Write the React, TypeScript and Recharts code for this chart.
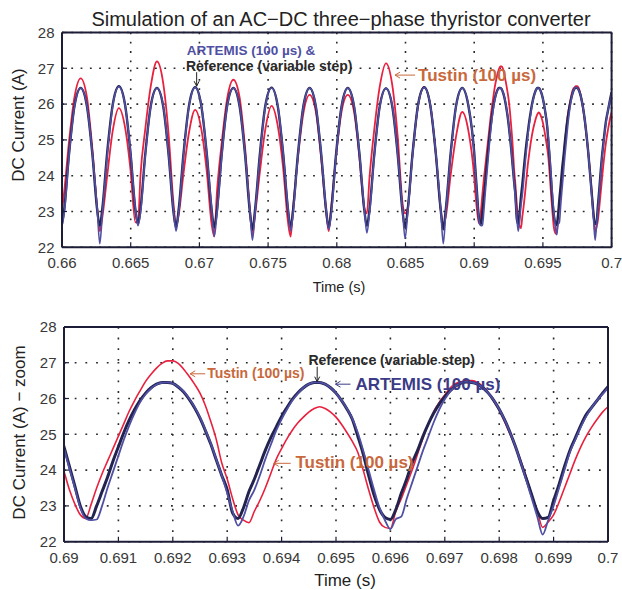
import { CartesianGrid, Line, LineChart, ReferenceDot, XAxis, YAxis } from "recharts";

// sample times in ms; coarse part follows each ripple cycle, zoom part is the 100 µs grid
const coarseTimeMs = [
  659.97, 660.16, 660.51, 660.91, 661.36, 661.81, 662.21, 662.56,
  662.75, 662.94, 663.29, 663.69, 664.14, 664.59, 664.99, 665.34,
  665.53, 665.71, 666.06, 666.46, 666.91, 667.36, 667.76, 668.11,
  668.3, 668.49, 668.84, 669.24, 669.69, 670.14, 670.54, 670.89,
  671.08, 671.27, 671.62, 672.02, 672.47, 672.92, 673.32, 673.67,
  673.86, 674.05, 674.4, 674.8, 675.25, 675.7, 676.1, 676.45,
  676.64, 676.82, 677.17, 677.57, 678.02, 678.47, 678.87, 679.22,
  679.41, 679.6, 679.95, 680.35, 680.8, 681.25, 681.65, 682.0,
  682.19, 682.38, 682.73, 683.13, 683.58, 684.03, 684.43, 684.78,
  684.97, 685.16, 685.51, 685.91, 686.36, 686.81, 687.21, 687.56,
  687.75, 687.93, 688.28, 688.68, 689.13, 689.58
];

const zoomTimeMs = [
  690.0, 690.1, 690.2, 690.3, 690.4, 690.5, 690.6, 690.7, 690.8, 690.9,
  691.0, 691.1, 691.2, 691.3, 691.4, 691.5, 691.6, 691.7, 691.8, 691.9,
  692.0, 692.1, 692.2, 692.3, 692.4, 692.5, 692.6, 692.7, 692.8, 692.9,
  693.0, 693.1, 693.2, 693.3, 693.4, 693.5, 693.6, 693.7, 693.8, 693.9,
  694.0, 694.1, 694.2, 694.3, 694.4, 694.5, 694.6, 694.7, 694.8, 694.9,
  695.0, 695.1, 695.2, 695.3, 695.4, 695.5, 695.6, 695.7, 695.8, 695.9,
  696.0, 696.1, 696.2, 696.3, 696.4, 696.5, 696.6, 696.7, 696.8, 696.9,
  697.0, 697.1, 697.2, 697.3, 697.4, 697.5, 697.6, 697.7, 697.8, 697.9,
  698.0, 698.1, 698.2, 698.3, 698.4, 698.5, 698.6, 698.7, 698.8, 698.9,
  699.0, 699.1, 699.2, 699.3, 699.4, 699.5, 699.6, 699.7, 699.8, 699.9,
  700.0
];

const referenceCoarse = [
  22.6, 23.05, 24.6, 25.95, 26.45, 25.95, 24.6, 23.05,
  22.6, 23.1, 24.65, 25.98, 26.5, 25.98, 24.62, 23.05,
  22.65, 23.05, 24.6, 25.95, 26.45, 25.95, 24.58, 23.0,
  22.55, 23.05, 24.6, 25.95, 26.47, 25.95, 24.6, 23.05,
  22.55, 23.0, 24.58, 25.95, 26.45, 25.95, 24.6, 23.0,
  22.5, 23.05, 24.6, 25.96, 26.46, 25.95, 24.6, 23.05,
  22.55, 23.05, 24.6, 25.95, 26.45, 25.94, 24.58, 23.05,
  22.55, 23.05, 24.62, 25.95, 26.45, 25.95, 24.6, 23.05,
  22.6, 23.05, 24.6, 25.95, 26.44, 25.95, 24.6, 23.02,
  22.55, 23.05, 24.6, 25.97, 26.47, 25.95, 24.6, 23.05,
  22.5, 23.05, 24.6, 25.95, 26.45, 25.95
];

const artemisCoarse = [
  22.55, 22.95, 24.55, 25.93, 26.45, 25.97, 24.62, 23.08,
  22.1, 22.95, 24.55, 25.95, 26.48, 25.97, 24.65, 23.08,
  22.6, 22.95, 24.55, 25.93, 26.45, 25.97, 24.6, 23.05,
  22.45, 22.95, 24.55, 25.93, 26.46, 25.97, 24.62, 23.08,
  22.3, 22.9, 24.52, 25.93, 26.45, 25.97, 24.62, 23.05,
  22.2, 22.95, 24.55, 25.93, 26.45, 25.97, 24.62, 23.08,
  22.45, 22.95, 24.55, 25.93, 26.45, 25.96, 24.6, 23.08,
  22.5, 22.95, 24.57, 25.93, 26.45, 25.97, 24.62, 23.08,
  22.4, 22.95, 24.55, 25.93, 26.44, 25.97, 24.62, 23.05,
  22.25, 22.95, 24.55, 25.95, 26.46, 25.97, 24.62, 23.08,
  22.1, 22.95, 24.55, 25.93, 26.45, 25.97
];

const tustinCoarse = [
  22.95, 23.55, 24.95, 26.2, 26.72, 26.2, 24.75, 23.1,
  22.45, 22.85, 24.0, 25.25, 25.89, 25.35, 24.15, 22.7,
  22.7, 24.0, 25.3, 26.5, 27.19, 26.6, 25.15, 23.25,
  22.6, 22.9, 24.05, 25.2, 25.84, 25.3, 24.1, 22.65,
  22.3, 23.5, 24.9, 26.15, 26.68, 26.2, 24.8, 23.1,
  22.35, 22.9, 24.1, 25.3, 25.95, 25.4, 24.2, 22.7,
  22.3, 23.1, 24.5, 25.75, 26.26, 25.8, 24.45, 23.0,
  22.45, 23.15, 24.55, 25.8, 26.26, 25.8, 24.5, 23.1,
  22.95, 23.95, 25.3, 26.5, 27.14, 26.55, 25.1, 23.25,
  22.95, 23.1, 24.6, 25.95, 26.47, 25.95, 24.6, 23.05,
  22.65, 22.85, 24.0, 25.1, 25.78, 25.25
];

const referenceZoom = [
  24.65, 24.1, 23.55, 23.0, 22.7, 22.65, 23.0, 23.4, 23.8, 24.25,
  24.65, 25.05, 25.4, 25.7, 25.95, 26.15, 26.3, 26.4, 26.45, 26.45,
  26.42, 26.32, 26.18, 25.98, 25.74, 25.45, 25.1, 24.72, 24.28, 23.85,
  23.45, 22.8, 22.65, 22.95, 23.4, 23.75, 24.15, 24.55, 24.9, 25.2,
  25.5, 25.75, 25.98, 26.16, 26.3, 26.4, 26.45, 26.45, 26.4, 26.3,
  26.15, 25.95, 25.71, 25.42, 24.95, 24.45, 23.85, 23.3, 22.9, 22.68,
  22.62, 22.9, 23.35, 23.75, 24.2, 24.55, 24.95, 25.3, 25.6, 25.85,
  26.05, 26.22, 26.35, 26.43, 26.46, 26.45, 26.4, 26.3, 26.15, 25.95,
  25.7, 25.4, 25.05, 24.65, 24.2, 23.75, 23.3, 22.85, 22.65, 22.68,
  23.15, 23.6, 24.1, 24.55, 24.9, 25.25, 25.55, 25.75, 25.95, 26.15,
  26.33
];

const artemisZoom = [
  24.6, 24.05, 23.5, 22.95, 22.65, 22.6, 22.62, 23.0, 23.5, 23.95,
  24.4, 24.85, 25.25, 25.6, 25.9, 26.12, 26.28, 26.39, 26.44, 26.45,
  26.42, 26.33, 26.2, 26.0, 25.76, 25.47, 25.12, 24.74, 24.3, 23.85,
  23.35, 22.85, 22.45, 22.7, 23.15, 23.45, 23.85, 24.3, 24.7, 25.1,
  25.42, 25.7, 25.95, 26.14, 26.3, 26.4, 26.45, 26.45, 26.4, 26.3,
  26.15, 25.95, 25.72, 25.44, 25.05, 24.55, 24.0, 23.45, 22.95, 22.6,
  22.35, 22.63, 22.7, 23.2, 23.65, 24.1, 24.55, 24.95, 25.35, 25.7,
  25.98, 26.2, 26.35, 26.44, 26.47, 26.45, 26.4, 26.3, 26.15, 25.95,
  25.7, 25.4, 25.05, 24.65, 24.2, 23.7, 23.2, 22.7, 22.2, 22.6,
  23.0, 23.5, 24.0, 24.5, 24.85, 25.2, 25.5, 25.75, 25.95, 26.12,
  26.3
];

const tustinZoom = [
  23.96, 23.45, 23.05, 22.75, 22.65, 23.05, 23.5, 23.9, 24.25, 24.6,
  24.95, 25.3, 25.65, 25.95, 26.22, 26.48, 26.68, 26.85, 26.98, 27.05,
  27.05, 26.98, 26.82, 26.62, 26.4, 26.15, 25.8, 25.35, 24.85, 24.2,
  23.75, 23.2, 22.75, 22.6, 22.53, 22.85, 23.15, 23.5, 23.9, 24.3,
  24.6, 24.88, 25.12, 25.32, 25.48, 25.62, 25.72, 25.77, 25.72, 25.62,
  25.48, 25.28, 25.05, 24.8, 24.5, 24.0, 23.45, 22.95, 22.55, 22.4,
  22.37, 22.85, 23.2, 23.6, 24.0, 24.45, 24.9, 25.3, 25.65, 25.9,
  26.1, 26.3, 26.42, 26.47, 26.5, 26.5, 26.45, 26.33, 26.15, 25.92,
  25.67, 25.35, 25.0, 24.65, 24.25, 23.8, 23.3, 22.85, 22.4, 22.55,
  22.75, 23.1, 23.5, 23.9, 24.3, 24.65, 24.95, 25.2, 25.42, 25.62,
  25.77
];

const currentTicks = [22, 23, 24, 25, 26, 27, 28];
const fullTimeTicks = [0.66, 0.665, 0.67, 0.675, 0.68, 0.685, 0.69, 0.695, 0.7];
const zoomTimeTicks = [0.69, 0.691, 0.692, 0.693, 0.694, 0.695, 0.696, 0.697, 0.698, 0.699, 0.7];

const timesMs = [...coarseTimeMs, ...zoomTimeMs];
const referenceAmps = [...referenceCoarse, ...referenceZoom];
const artemisAmps = [...artemisCoarse, ...artemisZoom];
const tustinAmps = [...tustinCoarse, ...tustinZoom];

const rows = timesMs.map((ms, i) => ({
  t: ms / 1000,
  ref: referenceAmps[i],
  art: artemisAmps[i],
  tus: tustinAmps[i]
}));

const FONT = "'Liberation Sans', Arial, Helvetica, sans-serif";
const FRAME = "#1d1d38";
const RED = "#e8213f";
const NAVY = "#23234f";
const SLATE = "#4f4fa3";
const ORANGE = "#c8683c";

interface CalloutLine {
  text: string;
  dx: number;
  dy: number;
  size: number;
  fill: string;
}

interface CalloutProps {
  cx?: number;
  cy?: number;
  dir: "left" | "down";
  len: number;
  color: string;
  lines: CalloutLine[];
}

function Callout({ cx = 0, cy = 0, dir, len, color, lines }: CalloutProps) {
  const shaft = dir === "left" ? `M${cx + len},${cy}H${cx}` : `M${cx},${cy - len}V${cy}`;
  const head =
    dir === "left"
      ? `M${cx + 5},${cy - 3}L${cx},${cy}L${cx + 5},${cy + 3}`
      : `M${cx - 2.5},${cy - 5}L${cx},${cy}L${cx + 2.5},${cy - 5}`;
  return (
    <g>
      <path d={shaft} stroke={color} strokeWidth={1} fill="none" />
      <path d={head} stroke={color} strokeWidth={1} fill="none" />
      {lines.map((l) => (
        <text
          key={l.text}
          x={cx + l.dx}
          y={cy + l.dy}
          fontSize={l.size}
          fontWeight="bold"
          fontFamily={FONT}
          fill={l.fill}
        >
          {l.text}
        </text>
      ))}
    </g>
  );
}

interface PanelProps {
  top: number;
  height: number;
  margin: { top: number; right: number; bottom: number; left: number };
  xDomain: [number, number];
  xTicks: number[];
  dash: string;
  widths: { ref: number; art: number; tus: number };
  children?: React.ReactNode;
}

function Panel({ top, height, margin, xDomain, xTicks, dash, widths, children }: PanelProps) {
  const frameLine = { stroke: FRAME, strokeWidth: 2 };
  const tickLine = { stroke: FRAME, strokeWidth: 1.2 };
  const tickText = { fill: "#383838", fontSize: 15, fontFamily: FONT };
  return (
    <div style={{ position: "absolute", left: 0, top }}>
      <LineChart width={622} height={height} data={rows} margin={margin}>
        <CartesianGrid stroke="#2a2a2a" strokeWidth={1.6} strokeDasharray={dash} />
        <XAxis
          dataKey="t"
          type="number"
          domain={xDomain}
          ticks={xTicks}
          interval={0}
          allowDataOverflow
          height={30}
          tickSize={-5}
          tickMargin={15.5}
          fontSize={15}
          axisLine={frameLine}
          tickLine={tickLine}
          tick={tickText}
        />
        <XAxis
          xAxisId="top"
          orientation="top"
          type="number"
          domain={xDomain}
          ticks={xTicks}
          interval={0}
          allowDataOverflow
          height={1}
          tickSize={-5}
          axisLine={frameLine}
          tickLine={tickLine}
          tick={false}
        />
        <YAxis
          type="number"
          domain={[22, 28]}
          ticks={currentTicks}
          interval={0}
          allowDataOverflow
          width={40}
          tickSize={-5}
          tickMargin={12.5}
          fontSize={15}
          axisLine={frameLine}
          tickLine={tickLine}
          tick={tickText}
        />
        <YAxis
          yAxisId="right"
          orientation="right"
          type="number"
          domain={[22, 28]}
          ticks={currentTicks}
          interval={0}
          allowDataOverflow
          width={1}
          tickSize={-5}
          axisLine={frameLine}
          tickLine={tickLine}
          tick={false}
        />
        <Line
          type="monotone"
          dataKey="tus"
          stroke={RED}
          strokeWidth={widths.tus}
          dot={false}
          activeDot={false}
          isAnimationActive={false}
        />
        <Line
          type="monotone"
          dataKey="ref"
          stroke={NAVY}
          strokeWidth={widths.ref}
          dot={false}
          activeDot={false}
          isAnimationActive={false}
        />
        <Line
          type="monotone"
          dataKey="art"
          stroke={SLATE}
          strokeWidth={widths.art}
          dot={false}
          activeDot={false}
          isAnimationActive={false}
        />
        {children}
      </LineChart>
    </div>
  );
}

export default function App() {
  return (
    <div style={{ position: "absolute", left: 0, top: 0, width: 622, height: 590, background: "#fff" }}>
      <Panel
        top={0}
        height={300}
        margin={{ top: 31.5, right: 9.4, bottom: 22.7, left: 22 }}
        xDomain={[0.66, 0.7]}
        xTicks={fullTimeTicks}
        dash="1.8 7.5"
        widths={{ ref: 2.4, art: 1.6, tus: 1.8 }}
      >
        <ReferenceDot
          x={0.6698}
          y={26.5}
          r={0}
          shape={(p: { cx?: number; cy?: number }) => (
            <Callout
              cx={p.cx}
              cy={p.cy}
              dir="down"
              len={14}
              color="#222"
              lines={[
                { text: "ARTEMIS (100 µs) &", dx: -10, dy: -31.5, size: 13.5, fill: SLATE },
                { text: "Reference (variable step)", dx: -10.7, dy: -15.5, size: 14, fill: "#2a2a2a" }
              ]}
            />
          )}
        />
        <ReferenceDot
          x={0.68424}
          y={26.81}
          r={0}
          shape={(p: { cx?: number; cy?: number }) => (
            <Callout
              cx={p.cx}
              cy={p.cy}
              dir="left"
              len={20}
              color={ORANGE}
              lines={[{ text: "Tustin (100 µs)", dx: 23, dy: 6, size: 17, fill: ORANGE }]}
            />
          )}
        />
      </Panel>
      <Panel
        top={300}
        height={290}
        margin={{ top: 25.9, right: 13, bottom: 18.3, left: 24 }}
        xDomain={[0.69, 0.7]}
        xTicks={zoomTimeTicks}
        dash="1.8 8.9"
        widths={{ ref: 3, art: 1.8, tus: 1.6 }}
      >
        <ReferenceDot
          x={0.694654}
          y={26.47}
          r={0}
          shape={(p: { cx?: number; cy?: number }) => (
            <Callout
              cx={p.cx}
              cy={p.cy}
              dir="down"
              len={15}
              color="#222"
              lines={[{ text: "Reference (variable step)", dx: -8.7, dy: -16.2, size: 14, fill: "#2a2a2a" }]}
            />
          )}
        />
        <ReferenceDot
          x={0.694991}
          y={26.4}
          r={0}
          shape={(p: { cx?: number; cy?: number }) => (
            <Callout
              cx={p.cx}
              cy={p.cy}
              dir="left"
              len={15}
              color="#3b3b87"
              lines={[{ text: "ARTEMIS (100 µs)", dx: 20, dy: 6, size: 17, fill: "#3b3b87" }]}
            />
          )}
        />
        <ReferenceDot
          x={0.69232}
          y={26.69}
          r={0}
          shape={(p: { cx?: number; cy?: number }) => (
            <Callout
              cx={p.cx}
              cy={p.cy}
              dir="left"
              len={15}
              color={ORANGE}
              lines={[{ text: "Tustin (100 µs)", dx: 17, dy: 4.5, size: 14, fill: ORANGE }]}
            />
          )}
        />
        <ReferenceDot
          x={0.693855}
          y={24.19}
          r={0}
          shape={(p: { cx?: number; cy?: number }) => (
            <Callout
              cx={p.cx}
              cy={p.cy}
              dir="left"
              len={17}
              color={ORANGE}
              lines={[{ text: "Tustin (100 µs)", dx: 21.7, dy: 5.2, size: 17, fill: ORANGE }]}
            />
          )}
        />
      </Panel>
      <svg
        width={622}
        height={590}
        style={{ position: "absolute", left: 0, top: 0, pointerEvents: "none" }}
        fontFamily={FONT}
        fill="#222"
      >
        <text x={341} y={26} textAnchor="middle" fontSize={20}>
          Simulation of an AC−DC three−phase thyristor converter
        </text>
        <text x={339} y={292} textAnchor="middle" fontSize={14.5}>
          Time (s)
        </text>
        <text x={345} y={586} textAnchor="middle" fontSize={17}>
          Time (s)
        </text>
        <text transform="translate(23.5,125) rotate(-90)" textAnchor="middle" fontSize={17}>
          DC Current (A)
        </text>
        <text transform="translate(25,432.5) rotate(-90)" textAnchor="middle" fontSize={17}>
          DC Current (A) − zoom
        </text>
      </svg>
    </div>
  );
}
